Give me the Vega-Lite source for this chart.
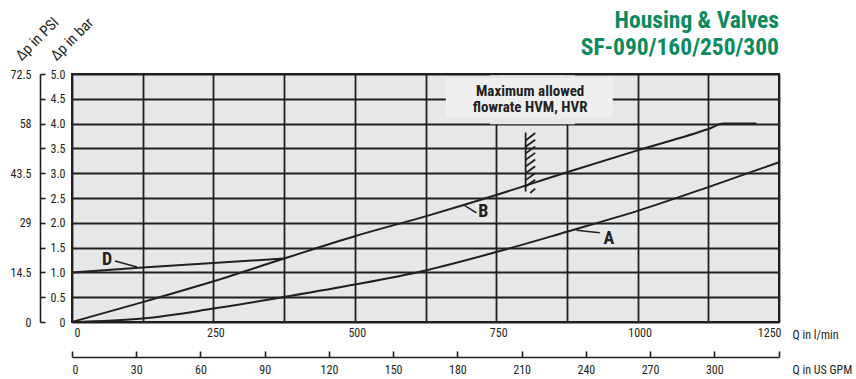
{
  "$schema": "https://vega.github.io/schema/vega-lite/v6.json",
  "width": 707,
  "height": 248,
  "autosize": {"type": "none"},
  "padding": {"left": 72, "top": 74, "right": 77, "bottom": 57},
  "background": "white",
  "title": {
    "text": ["Housing & Valves", "SF-090/160/250/300"],
    "anchor": "end",
    "frame": "group",
    "color": "#0b8a5f",
    "fontSize": 23.5,
    "fontWeight": "bold",
    "lineHeight": 27,
    "offset": 22,
    "dy": 67
  },
  "config": {
    "view": {"fill": "#e6e7e8", "stroke": "#231f20", "strokeWidth": 2},
    "font": "Roboto Condensed, Liberation Sans Narrow, Roboto, sans-serif",
    "axis": {
      "labelColor": "#231f20",
      "titleColor": "#231f20",
      "labelFontSize": 12,
      "titleFontSize": 12,
      "titleFontWeight": "normal",
      "labelOverlap": false
    }
  },
  "datasets": {
    "cover": [{"x": 739, "x2": 889, "y": 3.985, "y2": 4.975}],
    "box": [{"x": 661, "x2": 956, "y": 4.12, "y2": 4.92}],
    "curves": [
      {"curve": "A", "q": 0, "dp": 0},
      {"curve": "A", "q": 125, "dp": 0.07},
      {"curve": "A", "q": 250, "dp": 0.27},
      {"curve": "A", "q": 375, "dp": 0.505},
      {"curve": "A", "q": 500, "dp": 0.755},
      {"curve": "A", "q": 625, "dp": 1.04},
      {"curve": "A", "q": 750, "dp": 1.41},
      {"curve": "A", "q": 875, "dp": 1.82},
      {"curve": "A", "q": 1000, "dp": 2.24},
      {"curve": "A", "q": 1125, "dp": 2.72},
      {"curve": "A", "q": 1250, "dp": 3.22},
      {"curve": "B", "q": 0, "dp": 0},
      {"curve": "B", "q": 125, "dp": 0.4},
      {"curve": "B", "q": 250, "dp": 0.82},
      {"curve": "B", "q": 375, "dp": 1.28},
      {"curve": "B", "q": 500, "dp": 1.73},
      {"curve": "B", "q": 625, "dp": 2.13},
      {"curve": "B", "q": 750, "dp": 2.56},
      {"curve": "B", "q": 875, "dp": 3.02},
      {"curve": "B", "q": 1000, "dp": 3.46},
      {"curve": "B", "q": 1125, "dp": 3.89},
      {"curve": "B", "q": 1152, "dp": 4.0},
      {"curve": "B", "q": 1210, "dp": 4.0}
    ],
    "curveD": [
      {"curve": "D", "q": 0, "dp": 1.0},
      {"curve": "D", "q": 125, "dp": 1.1},
      {"curve": "D", "q": 375, "dp": 1.28}
    ],
    "hatch": [
      {"x": 802, "y": 2.63, "x2": 802, "y2": 3.82},
      {"x": 802, "y": 3.66, "x2": 819, "y2": 3.81},
      {"x": 802, "y": 3.535, "x2": 819, "y2": 3.675},
      {"x": 802, "y": 3.4, "x2": 819, "y2": 3.54},
      {"x": 802, "y": 3.27, "x2": 819, "y2": 3.41},
      {"x": 802, "y": 3.135, "x2": 819, "y2": 3.275},
      {"x": 802, "y": 3.0, "x2": 819, "y2": 3.14},
      {"x": 802, "y": 2.86, "x2": 819, "y2": 3.0},
      {"x": 802, "y": 2.73, "x2": 819, "y2": 2.87},
      {"x": 810, "y": 2.6, "x2": 819, "y2": 2.69}
    ],
    "leaders": [
      {"x": 76, "y": 1.23, "x2": 115, "y2": 1.11},
      {"x": 691, "y": 2.37, "x2": 715, "y2": 2.2},
      {"x": 892, "y": 1.85, "x2": 933, "y2": 1.8}
    ],
    "curveLabels": [
      {"label": "D", "q": 62, "dp": 1.25},
      {"label": "B", "q": 727, "dp": 2.22},
      {"label": "A", "q": 949, "dp": 1.68}
    ],
    "boxText": [
      {"label": "Maximum allowed", "q": 810, "dp": 4.66},
      {"label": "flowrate HVM, HVR", "q": 810, "dp": 4.33}
    ]
  },
  "resolve": {"axis": {"x": "independent", "y": "independent"}},
  "layer": [
    {
      "data": {"name": "cover"},
      "mark": {"type": "rect", "fill": "#e6e7e8"},
      "encoding": {
        "x": {"field": "x", "type": "quantitative", "scale": {"domain": [0, 1250], "nice": false, "zero": true}, "axis": null},
        "x2": {"field": "x2"},
        "y": {"field": "y", "type": "quantitative", "scale": {"domain": [0, 5], "nice": false, "zero": true}, "axis": null},
        "y2": {"field": "y2"}
      }
    },
    {
      "data": {"name": "box"},
      "mark": {"type": "rect", "fill": "#efefef"},
      "encoding": {
        "x": {"field": "x", "type": "quantitative", "scale": {"domain": [0, 1250], "nice": false}, "axis": null},
        "x2": {"field": "x2"},
        "y": {"field": "y", "type": "quantitative", "scale": {"domain": [0, 5], "nice": false}, "axis": null},
        "y2": {"field": "y2"}
      }
    },
    {
      "data": {"name": "curves"},
      "mark": {"type": "line", "color": "#231f20", "strokeWidth": 2, "interpolate": "monotone"},
      "encoding": {
        "x": {
          "field": "q", "type": "quantitative",
          "scale": {"domain": [0, 1250], "nice": false},
          "axis": {
            "values": [0, 125, 250, 375, 500, 625, 750, 875, 1000, 1125, 1250],
            "format": "d",
            "labelExpr": "datum.value % 250 === 0 ? datum.label : ''",
            "grid": true, "gridColor": "#231f20", "gridWidth": 1.8, "gridOpacity": 1,
            "domain": false, "ticks": false,
            "labelPadding": 5, "labelFlush": true, "labelOffset": 2,
            "title": "Q in l/min", "titleX": 720, "titleY": 12,
            "titleAlign": "left", "titleBaseline": "middle", "titleAngle": 0
          }
        },
        "y": {
          "field": "dp", "type": "quantitative",
          "scale": {"domain": [0, 5], "nice": false},
          "axis": {
            "values": [0, 0.5, 1, 1.5, 2, 2.5, 3, 3.5, 4, 4.5, 5],
            "labelExpr": "datum.value === 0 ? '0' : format(datum.value, '.1f')",
            "grid": true, "gridColor": "#231f20", "gridWidth": 1.8, "gridOpacity": 1,
            "domain": false, "ticks": false, "labelPadding": 7,
            "title": "Δp in bar", "titleAngle": -45, "titleX": -16, "titleY": -13,
            "titleAlign": "left", "titleBaseline": "alphabetic", "titleFontSize": 15
          }
        },
        "detail": {"field": "curve", "type": "nominal"}
      }
    },
    {
      "data": {"name": "curveD"},
      "mark": {"type": "line", "color": "#231f20", "strokeWidth": 2},
      "encoding": {
        "x": {"field": "q", "type": "quantitative", "scale": {"domain": [0, 1250], "nice": false}, "axis": null},
        "y": {"field": "dp", "type": "quantitative", "scale": {"domain": [0, 5], "nice": false}, "axis": null}
      }
    },
    {
      "data": {"name": "hatch"},
      "mark": {"type": "rule", "color": "#231f20", "strokeWidth": 1.8},
      "encoding": {
        "x": {
          "field": "x", "type": "quantitative",
          "scale": {"domain": [0, 1250], "nice": false},
          "axis": {
            "orient": "bottom", "offset": 35,
            "values": [0, 113.562, 227.125, 340.687, 454.249, 567.812, 681.374, 794.936, 908.499, 1022.061, 1135.624, 1250],
            "labelExpr": "datum.value > 1200 ? '' : format(datum.value / 3.78541, '.0f')",
            "grid": false,
            "domain": true, "domainColor": "#231f20", "domainWidth": 1.6,
            "ticks": true, "tickColor": "#231f20", "tickWidth": 1.6, "tickSize": -6,
            "labelPadding": 13,
            "title": "Q in US GPM", "titleX": 720, "titleY": 12,
            "titleAlign": "left", "titleBaseline": "middle", "titleAngle": 0
          }
        },
        "x2": {"field": "x2"},
        "y": {
          "field": "y", "type": "quantitative",
          "scale": {"domain": [0, 5], "nice": false},
          "axis": {
            "orient": "left", "offset": 32,
            "values": [0, 0.5, 1, 1.5, 2, 2.5, 3, 3.5, 4, 4.5, 5],
            "labelExpr": "datum.value % 1 === 0 ? format(datum.value * 14.5, '~g') : ''",
            "grid": false,
            "domain": true, "domainColor": "#231f20", "domainWidth": 1.6,
            "ticks": true, "tickColor": "#231f20", "tickWidth": 1.6, "tickSize": -5,
            "labelPadding": 14,
            "title": "Δp in PSI", "titleAngle": -45, "titleX": -19, "titleY": -13,
            "titleAlign": "left", "titleBaseline": "alphabetic", "titleFontSize": 15
          }
        },
        "y2": {"field": "y2"}
      }
    },
    {
      "data": {"name": "leaders"},
      "mark": {"type": "rule", "color": "#231f20", "strokeWidth": 1.5},
      "encoding": {
        "x": {"field": "x", "type": "quantitative", "scale": {"domain": [0, 1250], "nice": false}, "axis": null},
        "x2": {"field": "x2"},
        "y": {"field": "y", "type": "quantitative", "scale": {"domain": [0, 5], "nice": false}, "axis": null},
        "y2": {"field": "y2"}
      }
    },
    {
      "data": {"name": "curveLabels"},
      "mark": {"type": "text", "color": "#231f20", "fontSize": 18, "fontWeight": "bold", "align": "center", "baseline": "middle"},
      "encoding": {
        "x": {"field": "q", "type": "quantitative", "scale": {"domain": [0, 1250], "nice": false}, "axis": null},
        "y": {"field": "dp", "type": "quantitative", "scale": {"domain": [0, 5], "nice": false}, "axis": null},
        "text": {"field": "label"}
      }
    },
    {
      "data": {"name": "boxText"},
      "mark": {"type": "text", "color": "#231f20", "fontSize": 15, "fontWeight": "bold", "align": "center", "baseline": "middle"},
      "encoding": {
        "x": {"field": "q", "type": "quantitative", "scale": {"domain": [0, 1250], "nice": false}, "axis": null},
        "y": {"field": "dp", "type": "quantitative", "scale": {"domain": [0, 5], "nice": false}, "axis": null},
        "text": {"field": "label"}
      }
    }
  ]
}
